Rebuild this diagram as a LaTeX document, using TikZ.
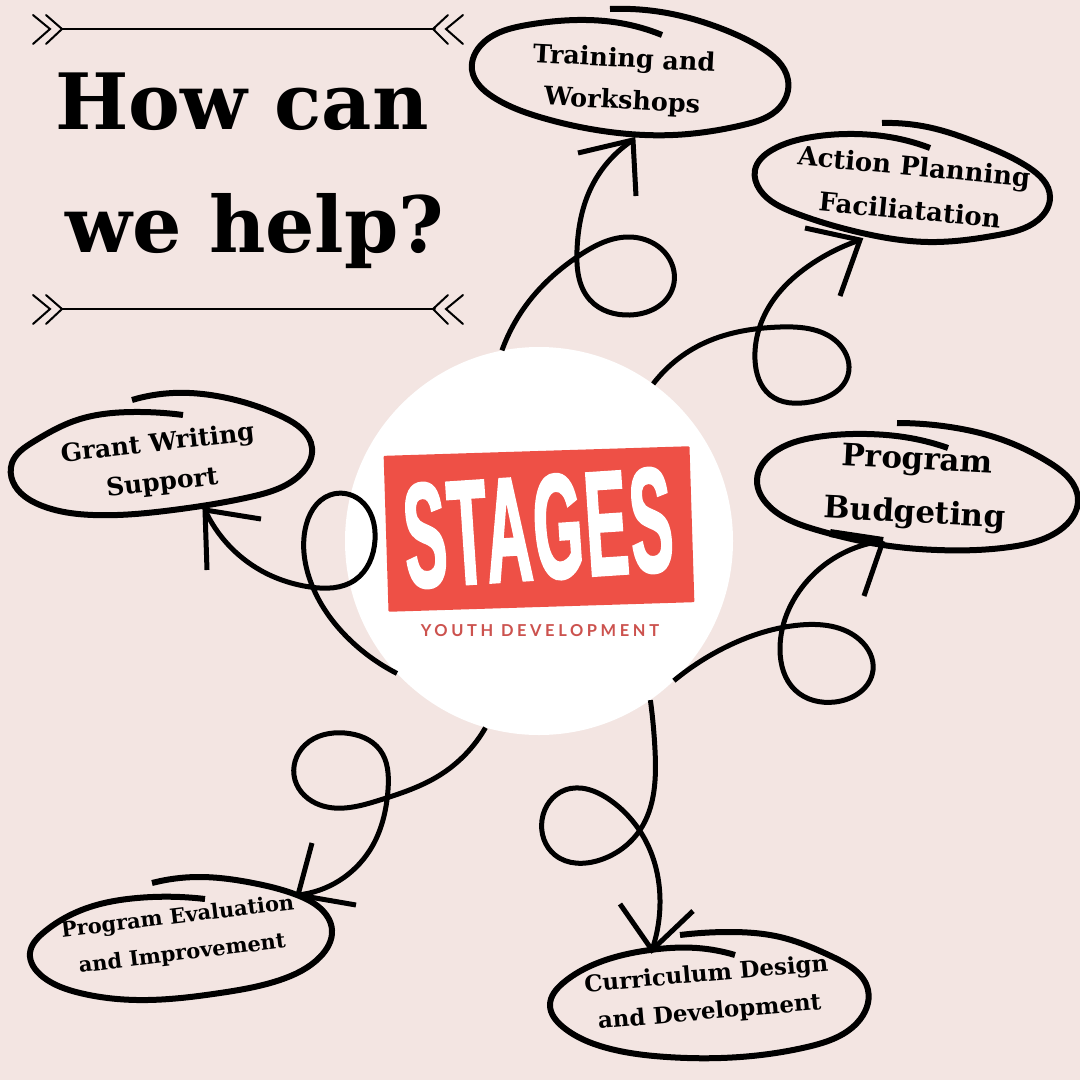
\documentclass[tikz,border=0pt]{standalone}
\usepackage{fontspec}
\usetikzlibrary{calc, positioning, shapes.geometric, hobby}
\setmainfont{DejaVu Serif}
\newfontfamily\logofont[FakeStretch=0.42,FakeBold=1.5,LetterSpace=2]{Liberation Sans Bold}
\newfontfamily\tagfont[LetterSpace=22]{Lato Bold}
\definecolor{blush}{RGB}{243,229,226}
\definecolor{logored}{RGB}{238,80,70}
\definecolor{tagred}{RGB}{204,82,78}
\tikzset{
	title/.style={font=\fontsize{78}{78}\selectfont\bfseries, inner sep=0pt},
	label/.style={font=\fontsize{25.5}{42}\selectfont\bfseries, align=center, inner sep=0pt},
	ring/.style={line width=6bp, use Hobby shortcut},
	wire/.style={line width=5bp, use Hobby shortcut},
	barb/.style={line width=5bp},
	trim/.style={line width=2bp, line cap=round, line join=miter},
}

\begin{document}
\begin{tikzpicture}
		[x=1bp, y=-1bp]
		\useasboundingbox[fill=blush] (0,0) rectangle (1080,1080);
	
		% nodes %
		\node[circle, fill=white, minimum size=388bp, inner sep=0pt] (hub) at (539,541) {};
		\node[rectangle, fill=logored, rounded corners=1bp, minimum width=306bp, minimum height=156bp, inner sep=0pt, rotate=1.8] (logo) at (539,529) {};
		\node[rotate=3.8, text=white, inner sep=0pt, font=\fontsize{150}{150}\selectfont\logofont] (stages) at (538,528) {STAGES};
		\node[text=tagred, font=\fontsize{16.5}{17}\selectfont\tagfont, inner sep=0pt] (tagline) at (540,631) {YOUTH DEVELOPMENT};
		\node[title] (how) at (242,102) {How can};
		\node[title] (help) at (255,231) {we help?};
		\node[label, rotate=-3] (train) at (623,81) {Training and\\Workshops};
		\node[label, rotate=-5.4, font=\fontsize{26}{44}\selectfont\bfseries] (action) at (912,188) {Action Planning\\Faciliatation};
		\node[label, rotate=-3, font=\fontsize{31}{54}\selectfont\bfseries] (budget) at (916,488) {Program\\Budgeting};
		\node[label, rotate=5, font=\fontsize{23}{38}\selectfont\bfseries] (curric) at (708,994) {Curriculum Design\\and Development};
		\node[label, rotate=7, font=\fontsize{21}{37}\selectfont\bfseries] (eval) at (180,936) {Program Evaluation\\and Improvement};
		\node[label, rotate=6.5, font=\fontsize{25}{40}\selectfont\bfseries] (grant) at (160,464) {Grant Writing\\Support};
		
		% arrow tips %
		\coordinate (traintip) at (633,140);
		\coordinate (actiontip) at (860,240);
		\coordinate (budgettip) at (883,541);
		\coordinate (currictip) at (652,950);
		\coordinate (evaltip) at (298,895);
		\coordinate (granttip) at (205,510);
		
		% banners %
		\foreach \y in {29,309} {
			\draw[trim] (62,\y) -- (435,\y);
			\draw[trim] (33,\y-14) -- (50,\y) -- (33,\y+15);
			\draw[trim] (46,\y-14) -- (62,\y) -- (46,\y+15);
			\draw[trim] (448,\y-14) -- (433,\y) -- (448,\y+15);
			\draw[trim] (463,\y-14) -- (446,\y) -- (463,\y+15);
		}
		
		% rings %
		\draw[ring] (610,9) .. (667,13) .. (720,28) .. (760,47) .. (788,80) .. (780,107) .. (743,125) .. (673,135) .. (610,132) .. (543,118) .. (493,97) .. (472,70) .. (483,43) .. (527,25) .. (577,20) .. (620,23) .. (662,35);
		\draw[ring] (882,123) .. (932,128) .. (978,143) .. (1028,167) .. (1050,197) .. (1038,220) .. (998,235) .. (928,242) .. (862,233) .. (795,213) .. (760,190) .. (755,170) .. (772,150) .. (812,137) .. (855,134) .. (895,138) .. (930,148);
		\draw[ring] (897,423) .. (950,427) .. (1003,440) .. (1050,463) .. (1078,500) .. (1060,530) .. (1010,547) .. (937,550) .. (883,545) .. (817,530) .. (770,507) .. (757,480) .. (773,453) .. (817,437) .. (867,434) .. (910,438) .. (948,448);
		\draw[ring] (680,935) .. (727,932) .. (780,937) .. (833,957) .. (868,990) .. (857,1023) .. (807,1047) .. (740,1057) .. (667,1057) .. (607,1048) .. (563,1027) .. (550,1005) .. (563,983) .. (600,962) .. (650,950) .. (697,948) .. (735,955);
		\draw[ring] (152,883) .. (197,877) .. (253,883) .. (297,895) .. (320,908) .. (332,930) .. (320,957) .. (280,980) .. (220,993) .. (137,1000) .. (80,993) .. (43,977) .. (30,953) .. (43,933) .. (87,908) .. (137,898) .. (205,899);
		\draw[ring] (132,400) .. (173,393) .. (227,398) .. (283,417) .. (312,448) .. (300,475) .. (250,497) .. (173,510) .. (93,515) .. (40,505) .. (13,482) .. (12,463) .. (33,442) .. (77,420) .. (133,412) .. (183,415);
		
		% edges %
		\draw[wire] (hub.101) .. (530,300) .. (580,255) .. (630,237) .. (670,260) .. (672,290) .. (630,315) .. (590,300) .. (577,250) .. (590,190) .. (traintip);
		\draw[wire] (hub.54) .. (700,345) .. (780,327) .. (840,345) .. (848,375) .. (810,402) .. (770,395) .. (755,360) .. (770,305) .. (810,265) .. (actiontip);
		\draw[wire] (hub.-46) .. (730,645) .. (800,625) .. (860,640) .. (873,670) .. (835,702) .. (795,690) .. (780,650) .. (800,590) .. (budgettip);
		\draw[wire] (hub.-55) .. (655,750) .. (640,830) .. (600,860) .. (555,855) .. (542,820) .. (565,790) .. (610,800) .. (650,850) .. (660,900) .. (currictip);
		\draw[wire] (hub.254) .. (440,775) .. (380,800) .. (320,805) .. (295,780) .. (305,745) .. (345,733) .. (380,750) .. (388,790) .. (370,850) .. (evaltip);
		\draw[wire] (hub.223) .. (350,640) .. (310,580) .. (305,530) .. (330,495) .. (360,500) .. (375,540) .. (355,580) .. (310,587) .. (260,570) .. (granttip);
		
		% barbs %
		\draw[barb] (578,153) -- (traintip) -- (636,196);
		\draw[barb] (805,228) -- (actiontip) -- (840,296);
		\draw[barb, line width=8bp] (830,533) -- (budgettip);
		\draw[barb] (budgettip) -- (864,596);
		\draw[barb] (620,904) -- (currictip) -- (693,911);
		\draw[barb] (312,843) -- (evaltip) -- (356,905);
		\draw[barb] (261,519) -- (granttip) -- (207,570);
		
		\end{tikzpicture}
\end{document}
